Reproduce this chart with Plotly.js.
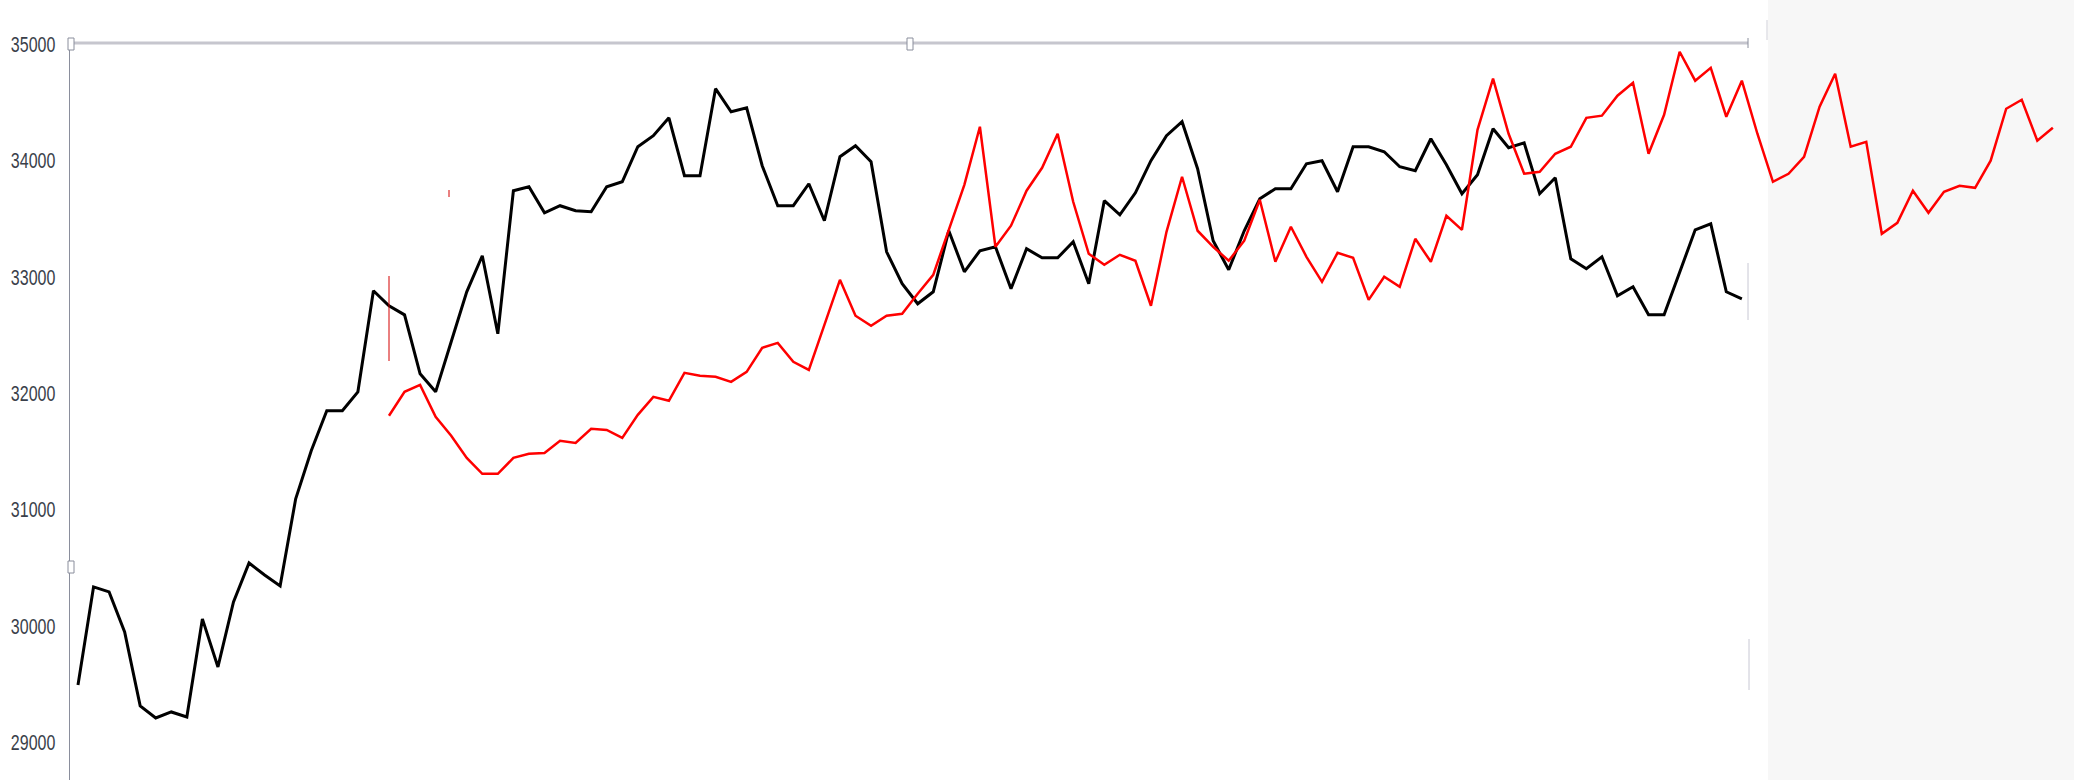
<!DOCTYPE html>
<html>
<head>
<meta charset="utf-8">
<script src="https://cdn.plot.ly/plotly-3.0.1.min.js"></script>
<style>
  html, body { margin: 0; padding: 0; background: #ffffff; }
  #chart { width: 2074px; height: 780px; }
</style>
</head>
<body>
<div id="chart"></div>
<script>
// Category positions (one per period)
const periods = Array.from({length: 128}, (_, i) => i);

// Black series (periods 0..107)
const blackSeries = [
  29490, 30333, 30290, 29946, 29310, 29206, 29258, 29215, 30058, 29645,
  30204, 30539, 30436, 30342, 31090, 31503, 31847, 31847, 32010, 32879,
  32750, 32672, 32165, 32010, 32440, 32870, 33180, 32509, 33739, 33773,
  33549, 33610, 33567, 33558, 33773, 33816, 34117, 34212, 34366, 33868,
  33868, 34616, 34418, 34452, 33954, 33610, 33610, 33799, 33481, 34031,
  34126, 33988, 33214, 32939, 32767, 32870, 33395, 33042, 33223, 33257,
  32896, 33240, 33162, 33162, 33300, 32939, 33653, 33532, 33721, 33997,
  34212, 34332, 33928, 33309, 33059, 33395, 33670, 33756, 33756, 33971,
  33997, 33730, 34117, 34117, 34074, 33945, 33911, 34186, 33962, 33713,
  33876, 34272, 34108, 34151, 33713, 33850, 33154, 33068, 33171, 32836,
  32913, 32672, 32672, 33042, 33403, 33455, 32870, 32810
];

// Red series (starts at period 20, runs to 127)
const redStart = 20;
const redSeries = [
  31804, 32010, 32070, 31795, 31632, 31442, 31305, 31305, 31442, 31477,
  31485, 31589, 31571, 31692, 31683, 31614, 31812, 31967, 31933, 32173,
  32148, 32139, 32096, 32182, 32388, 32431, 32268, 32199, 32586, 32973,
  32664, 32578, 32664, 32681, 32853, 33016, 33403, 33790, 34289, 33257,
  33438, 33739, 33936, 34229, 33644, 33197, 33102, 33188, 33137, 32750,
  33386, 33859, 33395, 33257, 33137, 33309, 33661, 33128, 33429, 33171,
  32956, 33205, 33162, 32801, 32999, 32913, 33326, 33128, 33524, 33403,
  34263, 34702, 34229, 33885, 33902, 34057, 34117, 34366, 34384, 34556,
  34667, 34057, 34392, 34934, 34685, 34796, 34375, 34685, 34229, 33816,
  33885, 34031, 34461, 34745, 34117, 34160, 33369, 33463, 33739, 33549,
  33730, 33782, 33764, 33997, 34444, 34521, 34169, 34280
];

// Y tick values / labels
const yTicks = [29000, 30000, 31000, 32000, 33000, 34000, 35000];
const yTickLabels = ["29000", "30000", "31000", "32000", "33000", "34000", "35000"];

const blackX = periods.slice(0, blackSeries.length);
const redX = periods.slice(redStart, redStart + redSeries.length);

const traces = [
  {
    x: blackX, y: blackSeries, type: 'scatter', mode: 'lines',
    line: {color: '#000000', width: 3}, hoverinfo: 'skip', showlegend: false
  },
  {
    x: redX, y: redSeries, type: 'scatter', mode: 'lines',
    line: {color: '#ff0000', width: 2.5}, hoverinfo: 'skip', showlegend: false
  }
];

const W = 2074, L = 70;
const px = v => (v - L) / (W - L);
const py = v => 1 - (v - 43) / 737;

const handle = (x, y) => ({
  type: 'rect', xref: 'paper', yref: 'paper',
  x0: px(x - 3), x1: px(x + 3), y0: py(y + 6), y1: py(y - 6),
  line: {color: '#8a8e9c', width: 1}, fillcolor: '#ffffff', layer: 'above'
});

const layout = {
  width: 2074, height: 780,
  margin: {l: 70, r: 0, t: 43, b: 0, pad: 0},
  paper_bgcolor: '#ffffff', plot_bgcolor: 'rgba(0,0,0,0)',
  showlegend: false,
  xaxis: {
    range: [-0.514, 128.36], visible: false, showgrid: false, zeroline: false, fixedrange: true
  },
  yaxis: {
    range: [28673, 35009], tickvals: yTicks, ticktext: yTickLabels,
    showgrid: false, zeroline: false, showline: true, linecolor: '#8a8e9c', linewidth: 1.5,
    ticks: '', ticklabelstandoff: 10,
    tickfont: {family: '"Liberation Sans Narrow", "Arial Narrow", sans-serif', size: 16, color: '#3a3f4a'},
    fixedrange: true
  },
  shapes: [
    // grey panel on the right
    {type: 'rect', xref: 'paper', yref: 'paper', x0: px(1768), x1: 1, y0: 0, y1: py(0),
     fillcolor: '#f7f7f7', line: {width: 0}, layer: 'below'},
    // top border line
    {type: 'line', xref: 'paper', yref: 'paper', x0: 0, x1: px(1748), y0: 1, y1: 1,
     line: {color: '#c6c6ce', width: 3}, layer: 'below'},
    // right-side faint marks
    {type: 'line', xref: 'paper', yref: 'paper', x0: px(1748), x1: px(1748), y0: py(263), y1: py(320),
     line: {color: '#c8c8d4', width: 1}},
    {type: 'line', xref: 'paper', yref: 'paper', x0: px(1749), x1: px(1749), y0: py(639), y1: py(690),
     line: {color: '#c8c8d4', width: 1}},
    {type: 'line', xref: 'paper', yref: 'paper', x0: px(1748), x1: px(1748), y0: py(38), y1: py(48),
     line: {color: '#8a8e9c', width: 1}},
    {type: 'line', xref: 'paper', yref: 'paper', x0: px(1767), x1: px(1767), y0: py(20), y1: py(40),
     line: {color: '#d0d0d8', width: 1}},
    // red marks
    {type: 'line', xref: 'paper', yref: 'paper', x0: px(389), x1: px(389), y0: py(276), y1: py(361),
     line: {color: '#d40000', width: 1}},
    {type: 'line', xref: 'paper', yref: 'paper', x0: px(449), x1: px(449), y0: py(190), y1: py(197),
     line: {color: '#d40000', width: 1}},
    // selection handles
    handle(71, 44), handle(71, 567), handle(910, 44)
  ],
  hovermode: false
};

Plotly.newPlot('chart', traces, layout, {displayModeBar: false, staticPlot: true}).then(gd => {
  // the reference's tick labels are vertically stretched: stretch the real text glyphs
  gd.querySelectorAll('.ytick text').forEach(t => {
    const tr = t.getAttribute('transform') || '';
    t.setAttribute('transform', tr + ' scale(1,1.42)');
  });
});
</script>
</body>
</html>
